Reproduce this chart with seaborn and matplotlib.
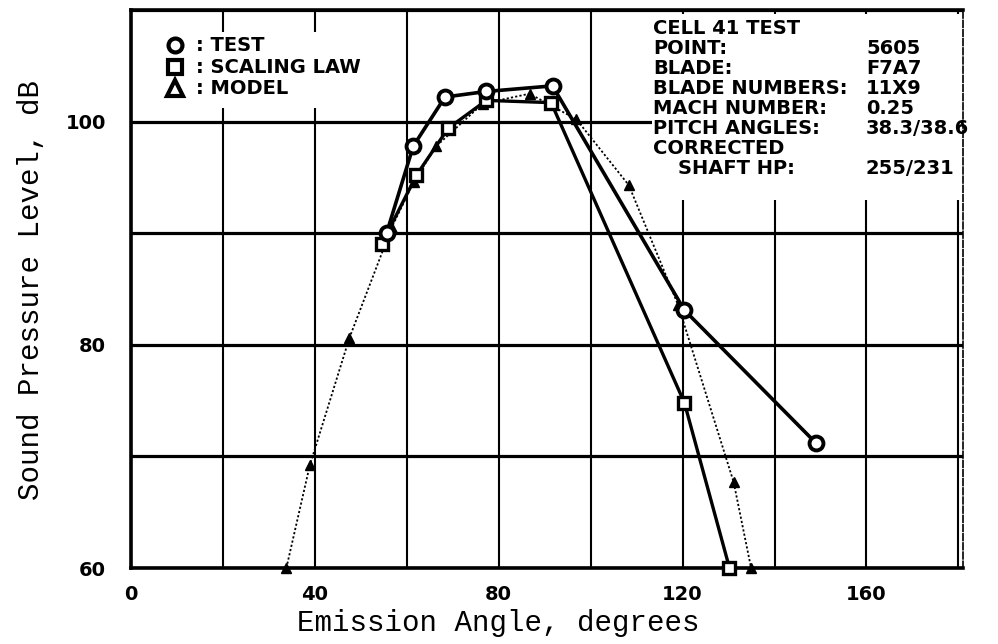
import matplotlib
matplotlib.use("Agg")
import matplotlib.pyplot as plt
import seaborn as sns
import pandas as pd
from matplotlib.patches import Rectangle
from matplotlib.lines import Line2D

# ---- data ----
test_angle = [55.6, 61.4, 68.3, 77.3, 91.7, 120.4, 149.0]
test_spl = [90.0, 97.8, 102.2, 102.7, 103.2, 83.1, 71.2]

scaling_angle = [54.5, 62.1, 69.0, 77.3, 91.4, 120.4, 130.2]
scaling_spl = [89.0, 95.2, 99.4, 101.9, 101.7, 74.8, 60.0]

model_angle = [33.8, 38.9, 47.5, 56.7, 61.5, 66.4, 76.5, 86.7, 96.9, 108.3, 119.0, 131.1, 134.9]
model_spl = [60.0, 69.2, 80.6, 90.5, 94.6, 97.8, 101.6, 102.5, 100.2, 94.3, 83.6, 67.7, 60.0]

x_ticks = [0, 20, 40, 60, 80, 100, 120, 140, 160, 180]
x_labels = ["0", "", "40", "", "80", "", "120", "", "160", ""]
y_ticks = [60, 70, 80, 90, 100, 110]
y_labels = ["60", "", "80", "", "100", ""]

legend_labels = [": TEST", ": SCALING LAW", ": MODEL"]
info_keys = ["CELL 41 TEST", "POINT:", "BLADE:", "BLADE NUMBERS:", "MACH NUMBER:",
             "PITCH ANGLES:", "CORRECTED", "SHAFT HP:"]
info_vals = ["", "5605", "F7A7", "11X9", "0.25", "38.3/38.6", "", "255/231"]

sns.set_theme(style="white")
plt.rcParams["font.family"] = ["DejaVu Sans"]
plt.rcParams["text.color"] = "black"
plt.rcParams["axes.labelcolor"] = "black"

W, H = 998, 644
fig = plt.figure(figsize=(W / 100, H / 100), dpi=100)
L, R, T, B = 131, 963, 10, 568
ax = fig.add_axes([L / W, 1 - B / H, (R - L) / W, (B - T) / H])

def ax_x(px):
    return (px - L) / (R - L)

def ax_y(py):
    return (B - py) / (B - T)

bold = dict(family="DejaVu Sans", weight="bold", size=14, color="black")

df_t = pd.DataFrame({"angle": test_angle, "spl": test_spl})
df_s = pd.DataFrame({"angle": scaling_angle, "spl": scaling_spl})
df_m = pd.DataFrame({"angle": model_angle, "spl": model_spl})

sns.lineplot(data=df_m, x="angle", y="spl", sort=False, estimator=None, ax=ax,
             color="black", linewidth=1.3, linestyle=(0, (1.2, 1.2)),
             marker="^", markersize=7, markerfacecolor="black",
             markeredgecolor="black", markeredgewidth=1.0, clip_on=False, zorder=3)
sns.lineplot(data=df_s, x="angle", y="spl", sort=False, estimator=None, ax=ax,
             color="black", linewidth=2.4,
             marker="s", markersize=9, markerfacecolor="white",
             markeredgecolor="black", markeredgewidth=2.4, clip_on=False, zorder=4)
sns.lineplot(data=df_t, x="angle", y="spl", sort=False, estimator=None, ax=ax,
             color="black", linewidth=2.6,
             marker="o", markersize=10, markerfacecolor="white",
             markeredgecolor="black", markeredgewidth=2.8, clip_on=False, zorder=5)

ax.set_xlim(0, 181)
ax.set_ylim(60, 110)
ax.set_xticks(x_ticks)
ax.set_xticklabels(x_labels, fontdict=bold)
ax.set_yticks(y_ticks)
ax.set_yticklabels(y_labels, fontdict=bold)
ax.tick_params(axis="x", length=0, pad=12, colors="black")
ax.tick_params(axis="y", length=0, pad=18, colors="black")

ax.set_axisbelow(True)
ax.grid(False)
ax.yaxis.grid(True, color="black", linewidth=2.3)
ax.xaxis.grid(True, color="black", linewidth=1.5)

for side in ["left", "bottom", "top"]:
    ax.spines[side].set_color("black")
    ax.spines[side].set_linewidth(2.6)
ax.spines["right"].set_color("black")
ax.spines["right"].set_linewidth(1.2)
ax.spines["right"].set_linestyle((0, (4, 1.5)))

# white panels that hide the grid behind the legend and the info block
ax.add_patch(Rectangle((0.003, ax_y(108)), ax_x(400), ax_y(32) - ax_y(108),
                       transform=ax.transAxes, facecolor="white", edgecolor="none", zorder=1))
ax.add_patch(Rectangle((ax_x(652), ax_y(200)), 0.997 - ax_x(652), ax_y(14) - ax_y(200),
                       transform=ax.transAxes, facecolor="white", edgecolor="none", zorder=1))

# legend (drawn manually to match the original layout)
leg_markers = ["o", "s", "^"]
leg_y = [45, 67, 88]
for mk, lab, py in zip(leg_markers, legend_labels, leg_y):
    ax.add_line(Line2D([ax_x(175)], [ax_y(py)], transform=ax.transAxes, marker=mk,
                       markersize=10 if mk != "^" else 11, markerfacecolor="white",
                       markeredgecolor="black", markeredgewidth=3.0, linestyle="none",
                       clip_on=False, zorder=6))
    ax.text(ax_x(196), ax_y(py + 6), lab, transform=ax.transAxes, ha="left",
            va="baseline", zorder=6, **bold)

# info block
info_y = [28, 48, 68, 87, 107, 127, 147, 167]
for k, v, py in zip(info_keys, info_vals, info_y):
    kx = 678 if k == "SHAFT HP:" else 653
    ax.text(ax_x(kx), ax_y(py + 6.5), k, transform=ax.transAxes, ha="left",
            va="baseline", zorder=6, **bold)
    if v:
        ax.text(ax_x(866), ax_y(py + 6.5), v, transform=ax.transAxes, ha="left",
                va="baseline", zorder=6, clip_on=False, **bold)

ax.set_xlabel("Emission Angle, degrees", fontsize=21, family="Liberation Mono",
              color="black", va="center")
ax.xaxis.set_label_coords(ax_x(498), ax_y(623))
ax.set_ylabel("Sound Pressure Level, dB", fontsize=21, family="Liberation Mono",
              color="black", va="center")
ax.yaxis.set_label_coords(ax_x(31), ax_y(290))

fig.savefig("out.png", dpi=100, facecolor="white")
